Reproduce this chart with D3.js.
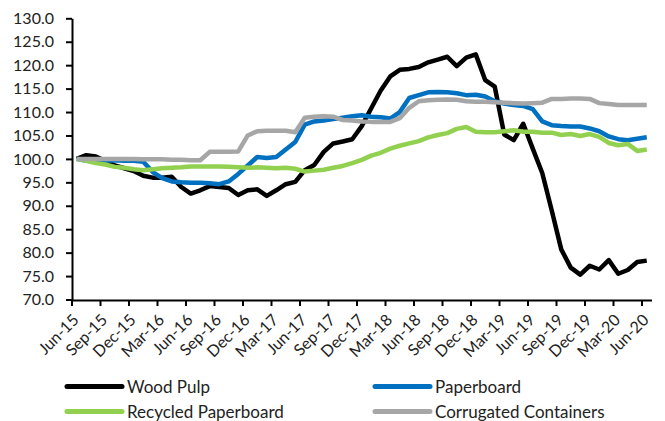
<!DOCTYPE html>
<html>
<head>
<meta charset="utf-8">
<script src="https://cdn.jsdelivr.net/npm/d3@7/dist/d3.min.js"></script>
<style>
  html, body { margin: 0; padding: 0; background: #fff; }
  svg { display: block; }
  text { font-family: Lato, "Open Sans", sans-serif; fill: #222; }
</style>
</head>
<body>
<svg id="chart" width="665" height="421"></svg>
<script>
// Monthly price indices, Jun-2015 = 100
const startMonth = new Date(2015, 5, 1);
const months = d3.timeMonth.range(startMonth, new Date(2020, 6, 1));
const tickLabels = ["Jun-15","Sep-15","Dec-15","Mar-16","Jun-16","Sep-16","Dec-16","Mar-17",
  "Jun-17","Sep-17","Dec-17","Mar-18","Jun-18","Sep-18","Dec-18","Mar-19","Jun-19","Sep-19",
  "Dec-19","Mar-20","Jun-20"];
const yTicks = [70, 75, 80, 85, 90, 95, 100, 105, 110, 115, 120, 125, 130];

const woodPulp = [100.0,100.8,100.5,99.6,98.6,98.0,97.4,96.4,96.0,96.0,
  96.2,94.0,92.6,93.3,94.2,94.0,93.8,92.3,93.3,93.5,
  92.1,93.3,94.6,95.1,97.6,98.7,101.5,103.3,103.7,104.2,
  107.0,110.8,114.6,117.6,119.0,119.2,119.6,120.6,121.2,121.8,
  119.8,121.6,122.3,116.8,115.4,105.2,104.0,107.5,102.2,97.0,
  89.0,80.7,76.8,75.3,77.2,76.4,78.4,75.5,76.3,78.0,78.3];
const paperboard = [100.0,99.6,99.5,99.6,99.7,99.6,99.6,99.4,97.2,95.9,
  95.2,95.0,94.9,94.9,94.8,94.6,95.2,96.8,98.6,100.4,
  100.2,100.4,102.0,103.6,107.3,108.0,108.2,108.5,108.8,109.1,
  109.3,109.0,108.9,108.6,110.0,113.0,113.6,114.2,114.3,114.2,
  114.0,113.6,113.7,113.3,112.3,111.8,111.5,111.3,110.6,108.0,
  107.2,107.0,106.9,106.9,106.5,105.9,104.8,104.2,104.0,104.3,104.6];
const recycledPaperboard = [100.0,99.6,99.1,98.8,98.3,98.1,97.8,97.6,97.8,98.0,
  98.1,98.2,98.4,98.4,98.4,98.4,98.3,98.2,98.1,98.2,
  98.1,98.0,98.1,97.9,97.3,97.5,97.7,98.1,98.5,99.1,
  99.8,100.7,101.3,102.2,102.8,103.3,103.8,104.6,105.1,105.5,
  106.4,106.8,105.8,105.7,105.7,105.9,106.1,105.8,105.8,105.6,
  105.6,105.1,105.3,104.9,105.3,104.7,103.4,102.9,103.2,101.7,102.0];
const corrugatedContainers = [100.0,100.0,100.0,100.0,100.0,100.0,100.0,99.9,99.9,99.9,
  99.8,99.8,99.7,99.7,101.5,101.5,101.5,101.6,105.0,105.9,
  106.0,106.0,106.0,105.7,108.8,109.0,109.1,109.0,108.3,108.2,
  108.0,107.9,107.9,107.9,108.7,110.9,112.3,112.5,112.6,112.7,
  112.6,112.3,112.2,112.2,112.1,112.0,111.9,111.8,111.9,112.0,
  112.8,112.8,112.9,112.9,112.8,111.9,111.7,111.5,111.5,111.5,111.5];

const seriesNames = ["Wood Pulp", "Paperboard", "Recycled Paperboard", "Corrugated Containers"];
const seriesColors = ["#000000", "#0070C0", "#92D050", "#A6A6A6"];
const seriesValues = [woodPulp, paperboard, recycledPaperboard, corrugatedContainers];

const svg = d3.select("#chart");

const x = d3.scaleBand().domain(months).range([72, 651.5]).padding(0);
const y = d3.scaleLinear().domain([70, 130]).range([299.5, 18.3]);
const cx = d => x(d) + x.bandwidth() / 2;

// Y axis
const yAxis = svg.append("g")
  .attr("transform", "translate(72,0)")
  .call(d3.axisLeft(y).tickValues(yTicks).tickFormat(d3.format(".1f"))
    .tickSize(6).tickSizeOuter(0).tickPadding(12));
yAxis.select(".domain").attr("stroke", "#000").attr("stroke-width", 2);
yAxis.selectAll(".tick line").attr("stroke", "#000").attr("stroke-width", 2);
yAxis.selectAll(".tick text").style("font-size", "16px").style("font-family", "Lato, sans-serif")
  .attr("fill", "#222");

// X axis: ticks on category boundaries every quarter, labels under category centres
const tickMonths = months.filter((d, i) => i % 3 === 0);
const xAxis = svg.append("g")
  .attr("transform", "translate(0,300)")
  .call(d3.axisBottom(x).tickValues(tickMonths).tickFormat("").tickSize(6).tickSizeOuter(0));
xAxis.select(".domain").attr("stroke", "#000").attr("stroke-width", 2);
xAxis.selectAll(".tick").attr("transform", d => `translate(${x(d)},0)`);
xAxis.selectAll(".tick line").attr("stroke", "#000").attr("stroke-width", 2);

svg.append("g").selectAll("text")
  .data(tickMonths)
  .join("text")
  .attr("transform", d => `translate(${cx(d) + 3},321) rotate(-45)`)
  .attr("text-anchor", "end")
  .style("font-size", "16px")
  .text((d, i) => tickLabels[i]);

// Series lines
const line = d3.line()
  .x((v, i) => cx(months[i]))
  .y(v => y(v));

svg.append("g").selectAll("path")
  .data(seriesValues)
  .join("path")
  .attr("d", line)
  .attr("fill", "none")
  .attr("stroke", (d, i) => seriesColors[i])
  .attr("stroke-width", 4.5)
  .attr("stroke-linejoin", "round")
  .attr("stroke-linecap", "butt");

// Legend, two columns
const legendPos = [[67, 386.5], [375, 386.5], [67, 411.5], [375, 411.5]];
const legend = svg.append("g").selectAll("g")
  .data(seriesNames)
  .join("g")
  .attr("transform", (d, i) => `translate(${legendPos[i][0]},${legendPos[i][1]})`);
legend.append("line")
  .attr("x1", 0).attr("x2", 55)
  .attr("stroke", (d, i) => seriesColors[i])
  .attr("stroke-width", 5)
  .attr("stroke-linecap", "round");
legend.append("text")
  .attr("x", 60).attr("y", 6)
  .style("font-size", "17px")
  .text(d => d);
</script>
</body>
</html>
